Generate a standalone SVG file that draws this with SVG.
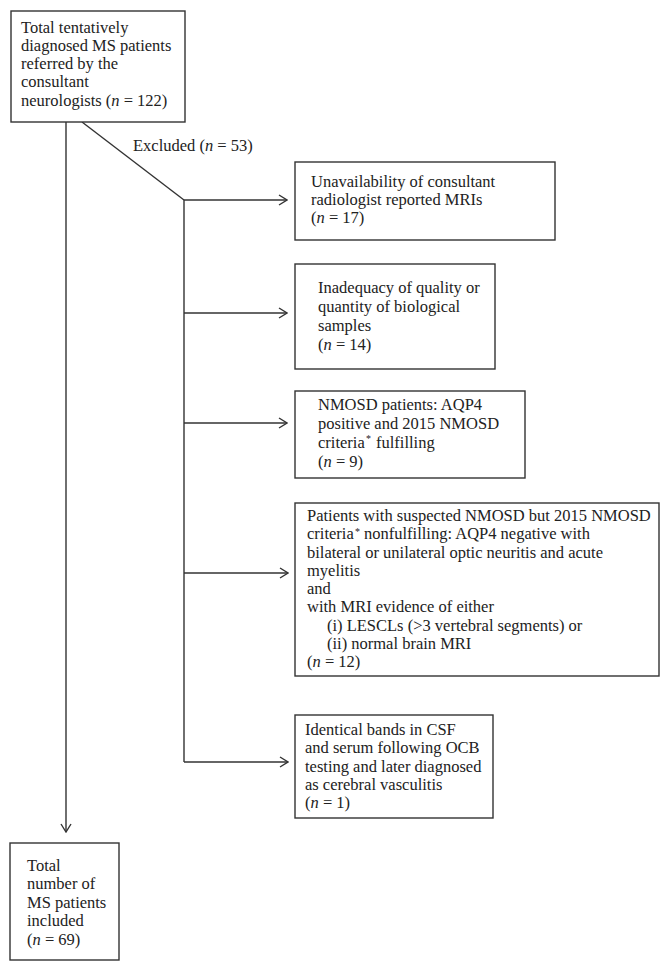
<svg xmlns="http://www.w3.org/2000/svg" width="670" height="971" viewBox="0 0 670 971">
<defs>
<style>
.box{fill:#fff;stroke:#333;stroke-width:1.4}
.ln{fill:none;stroke:#333;stroke-width:1.4}
text{font-family:"Liberation Serif","Times New Roman",serif;font-size:16.5px;fill:#222}
.i{font-style:italic}
.sup{font-size:10px}
</style>
<marker id="ah" viewBox="0 0 10 12" refX="9" refY="6" markerWidth="10" markerHeight="12" markerUnits="userSpaceOnUse" orient="auto">
<path d="M1,1 L9,6 L1,11" fill="none" stroke="#333" stroke-width="1.4"/>
</marker>
</defs>
<g id="connectors">
<line class="ln" x1="66" y1="122" x2="66" y2="832" marker-end="url(#ah)"/>
<line class="ln" x1="82" y1="122" x2="184" y2="200"/>
<line class="ln" x1="184" y1="200" x2="184" y2="762"/>
<line class="ln" x1="184" y1="200" x2="287" y2="200" marker-end="url(#ah)"/>
<line class="ln" x1="184" y1="313" x2="287" y2="313" marker-end="url(#ah)"/>
<line class="ln" x1="184" y1="423" x2="287" y2="423" marker-end="url(#ah)"/>
<line class="ln" x1="184" y1="573" x2="288" y2="573" marker-end="url(#ah)"/>
<line class="ln" x1="184" y1="762" x2="288" y2="762" marker-end="url(#ah)"/>
<text x="133" y="151">Excluded (<tspan class="i">n</tspan> = 53)</text>
</g>
<g id="total">
<rect class="box" x="11" y="11" width="174" height="111"/>
<text x="21" y="33">Total tentatively</text>
<text x="21" y="51">diagnosed MS patients</text>
<text x="21" y="69">referred by the</text>
<text x="21" y="87">consultant</text>
<text x="21" y="106">neurologists (<tspan class="i">n</tspan> = 122)</text>
</g>
<g id="ex1">
<rect class="box" x="295" y="162" width="260" height="78"/>
<text x="311" y="187">Unavailability of consultant</text>
<text x="311" y="205">radiologist reported MRIs</text>
<text x="311" y="223">(<tspan class="i">n</tspan> = 17)</text>
</g>
<g id="ex2">
<rect class="box" x="295" y="264" width="200" height="105"/>
<text x="318" y="293">Inadequacy of quality or</text>
<text x="318" y="312">quantity of biological</text>
<text x="318" y="331">samples</text>
<text x="318" y="350">(<tspan class="i">n</tspan> = 14)</text>
</g>
<g id="ex3">
<rect class="box" x="295" y="391" width="230" height="87"/>
<text x="318" y="410">NMOSD patients: AQP4</text>
<text x="318" y="429">positive and 2015 NMOSD</text>
<text x="318" y="448">criteria</text>
<text class="sup" x="366" y="442">*</text>
<text x="376" y="448">fulfilling</text>
<text x="318" y="467">(<tspan class="i">n</tspan> = 9)</text>
</g>
<g id="ex4">
<rect class="box" x="295" y="503" width="364" height="173"/>
<text x="307" y="521">Patients with suspected NMOSD but 2015 NMOSD</text>
<text x="307" y="539">criteria</text>
<text class="sup" x="355" y="535">*</text>
<text x="364" y="539">nonfulfilling: AQP4 negative with</text>
<text x="307" y="557.5">bilateral or unilateral optic neuritis and acute</text>
<text x="307" y="576">myelitis</text>
<text x="307" y="594">and</text>
<text x="307" y="612">with MRI evidence of either</text>
<text x="327" y="630.5">(i) LESCLs (&gt;3 vertebral segments) or</text>
<text x="327" y="649">(ii) normal brain MRI</text>
<text x="307" y="667">(<tspan class="i">n</tspan> = 12)</text>
</g>
<g id="ex5">
<rect class="box" x="295" y="715" width="198" height="103"/>
<text x="305" y="735">Identical bands in CSF</text>
<text x="305" y="753">and serum following OCB</text>
<text x="305" y="772">testing and later diagnosed</text>
<text x="305" y="790">as cerebral vasculitis</text>
<text x="305" y="808">(<tspan class="i">n</tspan> = 1)</text>
</g>
<g id="included">
<rect class="box" x="10" y="843" width="109" height="117"/>
<text x="27" y="871">Total</text>
<text x="27" y="889">number of</text>
<text x="27" y="908">MS patients</text>
<text x="27" y="926">included</text>
<text x="27" y="945">(<tspan class="i">n</tspan> = 69)</text>
</g>
</svg>
